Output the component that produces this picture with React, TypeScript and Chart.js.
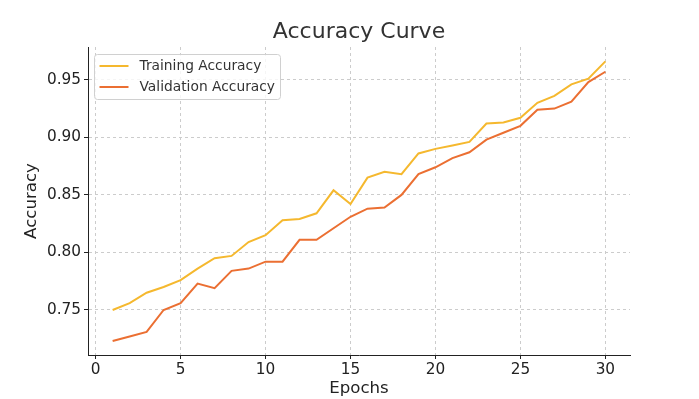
import React, { useEffect, useRef } from "react";
import { Chart, registerables } from "chart.js";

Chart.register(...registerables);

const epochs = Array.from({ length: 30 }, (_, i) => i + 1);
const trainingAccuracy = [
  0.75, 0.756, 0.765, 0.77, 0.776, 0.786, 0.795, 0.797, 0.809, 0.815,
  0.828, 0.829, 0.834, 0.854, 0.842, 0.865, 0.87, 0.868, 0.886, 0.89,
  0.893, 0.896, 0.912, 0.913, 0.917, 0.93, 0.936, 0.946, 0.951, 0.966,
];
const validationAccuracy = [
  0.723, 0.727, 0.731, 0.75, 0.756, 0.773, 0.769, 0.784, 0.786, 0.792,
  0.792, 0.811, 0.811, 0.821, 0.831, 0.838, 0.839, 0.85, 0.868, 0.874,
  0.882, 0.887, 0.898, 0.904, 0.91, 0.924, 0.925, 0.931, 0.948, 0.957,
];
const xTicks = [0, 5, 10, 15, 20, 25, 30];
const yTicks = [0.75, 0.8, 0.85, 0.9, 0.95];
const seriesNames = ["Training Accuracy", "Validation Accuracy"];
const seriesColors = ["#F5B82E", "#EB6F32"];
const FONT = "'DejaVu Sans', sans-serif";

const overlayPlugin = {
  id: "overlay",
  afterDraw(chart: any) {
    const { ctx, chartArea } = chart;
    ctx.save();
    // title
    ctx.fillStyle = "#333333";
    ctx.font = `22px ${FONT}`;
    ctx.textAlign = "center";
    ctx.textBaseline = "middle";
    ctx.fillText("Accuracy Curve", (chartArea.left + chartArea.right) / 2, 32);
    // legend
    const bx = chartArea.left + 6.5;
    const by = chartArea.top + 7.5;
    const bw = 186;
    const bh = 45;
    ctx.beginPath();
    (ctx as any).roundRect(bx, by, bw, bh, 3);
    ctx.fillStyle = "rgba(255,255,255,0.8)";
    ctx.fill();
    ctx.strokeStyle = "#d0d0d0";
    ctx.lineWidth = 1;
    ctx.stroke();
    ctx.font = `13.8px ${FONT}`;
    ctx.textAlign = "left";
    seriesNames.forEach((name, i) => {
      const y = by + 11.5 + i * 21;
      ctx.beginPath();
      ctx.moveTo(bx + 5, y);
      ctx.lineTo(bx + 34, y);
      ctx.strokeStyle = seriesColors[i];
      ctx.lineWidth = 2;
      ctx.stroke();
      ctx.fillStyle = "#333333";
      ctx.fillText(name, bx + 45, y);
    });
    ctx.restore();
  },
};

export default function App() {
  const ref = useRef<HTMLCanvasElement>(null);
  useEffect(() => {
    if (!ref.current) return;
    const chart = new Chart(ref.current, {
      type: "line",
      data: {
        datasets: seriesNames.map((name, i) => ({
          label: name,
          data: epochs.map((e, j) => ({
            x: e,
            y: (i === 0 ? trainingAccuracy : validationAccuracy)[j],
          })),
          borderColor: seriesColors[i],
          backgroundColor: seriesColors[i],
          borderWidth: 2,
          pointRadius: 0,
          tension: 0,
          fill: false,
        })),
      },
      options: {
        animation: false,
        responsive: false,
        layout: { padding: { top: 47, right: 69, bottom: 0, left: 0 } },
        plugins: {
          legend: { display: false },
          title: { display: false },
          tooltip: { enabled: false },
        },
        scales: {
          x: {
            type: "linear",
            min: -0.45,
            max: 31.45,
            afterBuildTicks: (s: any) => {
              s.ticks = xTicks.map((v) => ({ value: v }));
            },
            afterFit: (s: any) => {
              s.height = 44;
            },
            grid: {
              color: "#cccccc",
              tickLength: 4,
              tickColor: "#222222",
            } as any,
            border: { display: true, color: "#222222", width: 1, dash: [3, 3] } as any,
            ticks: {
              color: "#222222",
              font: { family: FONT, size: 15.3 },
              padding: 2,
              maxRotation: 0,
              callback: (v: any) => String(v),
            },
            title: {
              display: true,
              text: "Epochs",
              color: "#222222",
              font: { family: FONT, size: 16.6 },
              padding: { top: 0, bottom: 0 },
            },
          },
          y: {
            type: "linear",
            min: 0.7109,
            max: 0.9785,
            afterBuildTicks: (s: any) => {
              s.ticks = yTicks.map((v) => ({ value: v }));
            },
            afterFit: (s: any) => {
              s.width = 88;
            },
            grid: {
              color: "#cccccc",
              tickLength: 4,
              tickColor: "#222222",
            } as any,
            border: { display: true, color: "#222222", width: 1, dash: [3, 3] } as any,
            ticks: {
              color: "#222222",
              font: { family: FONT, size: 15.3 },
              padding: 3,
              callback: (v: any) => Number(v).toFixed(2),
            },
            title: {
              display: true,
              text: "Accuracy",
              color: "#222222",
              font: { family: FONT, size: 16.6 },
              padding: { top: 22, bottom: 0 },
            },
          },
        },
      } as any,
      plugins: [overlayPlugin],
    });
    return () => chart.destroy();
  }, []);
  return (
    <div style={{ position: "fixed", left: 0, top: 0, width: 699, height: 399, background: "#fff" }}>
      <canvas ref={ref} width={699} height={399} style={{ width: 699, height: 399 }} />
    </div>
  );
}
